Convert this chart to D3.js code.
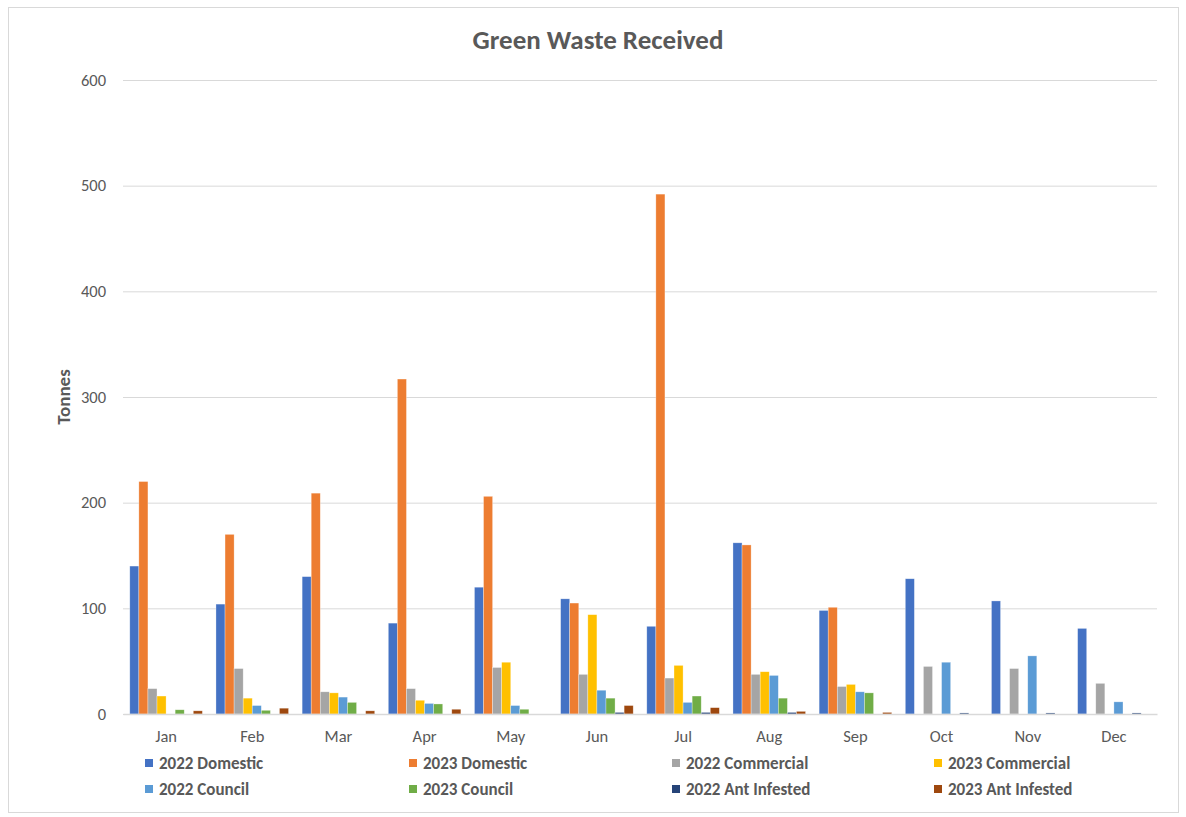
<html>
<head>
<meta charset="utf-8">
<title>Green Waste Received</title>
<script src="https://d3js.org/d3.v7.min.js"></script>
<style>
body { margin:0; background:#fff; }
text { font-family: Carlito, Calibri, Lato, sans-serif; }
</style>
</head>
<body>
<div id="chart"></div>
<script>
// data (tonnes)
var months = ["Jan","Feb","Mar","Apr","May","Jun","Jul","Aug","Sep","Oct","Nov","Dec"];
var series = ["2022 Domestic","2023 Domestic","2022 Commercial","2023 Commercial",
              "2022 Council","2023 Council","2022 Ant Infested","2023 Ant Infested"];
var domestic2022   = [140, 104, 130, 86, 120, 109, 83, 162, 98, 128, 107, 81];
var domestic2023   = [220, 170, 209, 317, 206, 105, 492, 160, 101, null, null, null];
var commercial2022 = [24, 43, 21, 24, 44, 37.5, 34, 37.5, 26, 45, 43, 29];
var commercial2023 = [17, 15, 20, 13, 49, 94, 46, 40, 28, null, null, null];
var council2022    = [0, 8, 16, 10, 8, 22.5, 11, 36.5, 21, 49, 55, 11.5];
var council2023    = [4, 3.5, 11, 9.5, 4.5, 15, 17, 15, 20, null, null, null];
var ant2022        = [0, 0, 0, 0, 0, 1.5, 1.5, 1.5, 0, 1, 1, 1];
var ant2023        = [3, 5.5, 3, 4.5, 0, 8, 6, 2.5, 1.5, null, null, null];
var yTicks = [0, 100, 200, 300, 400, 500, 600];

var values = [domestic2022, domestic2023, commercial2022, commercial2023,
              council2022, council2023, ant2022, ant2023];
var colors = ["#4472C4","#ED7D31","#A5A5A5","#FFC000","#5B9BD5","#70AD47","#264478","#9E480E"];

var W = 1186, H = 817;
var plotLeft = 123, plotRight = 1157, plotTop = 80, plotBottom = 714;

var svg = d3.select("#chart").append("svg")
    .attr("width", W).attr("height", H);

svg.append("rect")
    .attr("x", 8.5).attr("y", 7.5)
    .attr("width", 1170).attr("height", 805)
    .attr("fill", "#fff").attr("stroke", "#d9d9d9");

var x0 = d3.scaleBand().domain(months).range([plotLeft, plotRight]).padding(0);
var x1 = d3.scaleBand().domain(series).range([0, x0.bandwidth()])
    .paddingInner(0).paddingOuter(0.75);
var y = d3.scaleLinear().domain([0, 600]).range([plotBottom, plotTop]);

// gridlines
var grid = svg.append("g")
    .attr("transform", "translate(" + plotLeft + ",0)")
    .call(d3.axisLeft(y).tickValues(yTicks).tickSize(-(plotRight - plotLeft)).tickFormat(""));
grid.select(".domain").remove();
grid.selectAll("line").attr("stroke", "#d9d9d9");

// y tick labels
var yAxis = svg.append("g")
    .attr("transform", "translate(" + (plotLeft - 17) + ",0)")
    .call(d3.axisLeft(y).tickValues(yTicks).tickSize(0).tickPadding(0));
yAxis.select(".domain").remove();
yAxis.selectAll("text")
    .style("font-size", "16.5px").attr("fill", "#595959");

// bars
var rows = [];
months.forEach(function(m, i) {
  series.forEach(function(s, j) {
    if (values[j][i] != null && values[j][i] > 0)
      rows.push({month: m, series: s, value: values[j][i], color: colors[j]});
  });
});

svg.append("g").selectAll("rect").data(rows).enter().append("rect")
    .attr("x", function(d) { return x0(d.month) + x1(d.series); })
    .attr("y", function(d) { return y(d.value); })
    .attr("width", x1.bandwidth())
    .attr("height", function(d) { return plotBottom - y(d.value); })
    .attr("fill", function(d) { return d.color; })
    .attr("stroke", "#fff").attr("stroke-opacity", 0.5).attr("stroke-width", 0.6);

// x axis
var xAxis = svg.append("g")
    .attr("transform", "translate(0," + plotBottom + ")")
    .call(d3.axisBottom(x0).tickSize(0).tickPadding(16));
xAxis.select(".domain").attr("stroke", "#d9d9d9").attr("stroke-width", 1.5);
xAxis.selectAll("text")
    .style("font-size", "16.5px").attr("fill", "#595959");

// title
svg.append("text")
    .attr("x", 598).attr("y", 49)
    .attr("text-anchor", "middle")
    .style("font-size", "27px").style("font-weight", 700)
    .attr("fill", "#595959")
    .text("Green Waste Received");

// y label
svg.append("text")
    .attr("transform", "translate(70,397)rotate(-90)")
    .attr("text-anchor", "middle")
    .style("font-size", "19px").style("font-weight", 700)
    .attr("fill", "#595959")
    .text("Tonnes");

// legend
var legX = [145, 409, 672, 934];
var legY = [763, 789];
var leg = svg.append("g").selectAll("g").data(series).enter().append("g")
    .attr("transform", function(d, i) {
      return "translate(" + legX[i % 4] + "," + legY[Math.floor(i / 4)] + ")";
    });
leg.append("rect")
    .attr("x", 0).attr("y", -4).attr("width", 8).attr("height", 8)
    .attr("fill", function(d, i) { return colors[i]; });
leg.append("text")
    .attr("x", 14).attr("dy", "0.35em")
    .style("font-size", "17px").style("font-weight", 700)
    .attr("fill", "#595959")
    .text(function(d) { return d; });
</script>
</body>
</html>
